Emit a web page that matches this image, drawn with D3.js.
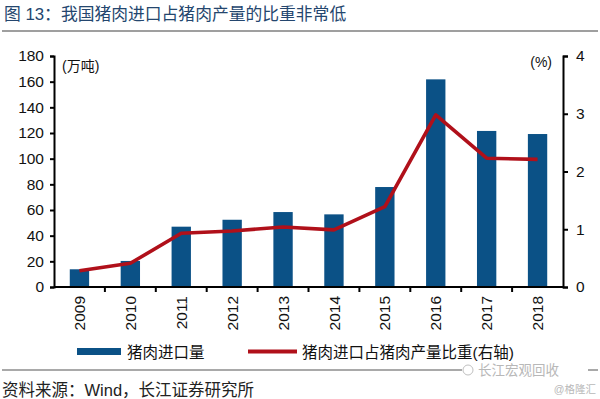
<!DOCTYPE html>
<html><head><meta charset="utf-8">
<script src="https://cdn.jsdelivr.net/npm/d3@7"></script>
<style>
body{margin:0;background:#fff;}
svg{display:block;}
text{font-family:"Liberation Sans",Arial,"Noto Sans CJK SC",sans-serif;}
.cjk{font-family:"Liberation Sans","Noto Sans CJK SC",sans-serif;}
</style></head>
<body>
<svg id="c" width="600" height="399"></svg>
<script>
const years = ["2009","2010","2011","2012","2013","2014","2015","2016","2017","2018"];
const importVolume = [13.8, 20.3, 47.0, 52.4, 58.4, 56.6, 77.9, 161.8, 121.6, 119.2];
const importShare = [0.28, 0.41, 0.93, 0.97, 1.04, 0.99, 1.39, 2.98, 2.23, 2.21];
const leftTicks = [0,20,40,60,80,100,120,140,160,180];
const rightTicks = [0,1,2,3,4];
const seriesNames = ["猪肉进口量","猪肉进口占猪肉产量比重(右轴)"];

const svg = d3.select("#c");
const L = 54, R = 563, T = 56, B = 287;
const x = d3.scaleBand().domain(years).range([L, R]).paddingInner(0.62).paddingOuter(0.31);
const xb = d3.scaleBand().domain(years).range([L, R]);
const yL = d3.scaleLinear().domain([0,180]).range([B, T]);
const yR = d3.scaleLinear().domain([0,4]).range([B, T]);

const barColor = "#0b5186", lineColor = "#b0101a";

// title
svg.append("text").attr("class","cjk").attr("x",4).attr("y",20)
  .attr("font-size",16.8).attr("fill","#24466e").text("图 13：我国猪肉进口占猪肉产量的比重非常低");
svg.append("line").attr("x1",2).attr("x2",598).attr("y1",31).attr("y2",31)
  .attr("stroke","#7f7f7f").attr("stroke-width",1.5);

// bars
svg.selectAll("rect.bar").data(years).join("rect").attr("class","bar")
  .attr("x", d => x(d)).attr("width", x.bandwidth())
  .attr("y", (d,i) => yL(importVolume[i])).attr("height", (d,i) => B - yL(importVolume[i]))
  .attr("fill", barColor);

// line
const line = d3.line().x(d => xb(d[0]) + xb.bandwidth()/2).y(d => yR(d[1]));
svg.append("path").datum(years.map((y,i)=>[y, importShare[i]]))
  .attr("d", line).attr("fill","none").attr("stroke",lineColor)
  .attr("stroke-width",3.6).attr("stroke-linejoin","round");

// axes
const axL = svg.append("g").attr("transform",`translate(${L},0)`)
  .call(d3.axisLeft(yL).tickValues(leftTicks).tickSize(4).tickPadding(6));
const axR = svg.append("g").attr("transform",`translate(${R},0)`)
  .call(d3.axisRight(yR).tickValues(rightTicks).tickFormat(d3.format("d")).tickSize(5).tickPadding(8));
const axX = svg.append("g").attr("transform",`translate(0,${B})`)
  .call(d3.axisBottom(xb).tickSize(0).tickPadding(0));
[axL, axR, axX].forEach(a => {
  a.select(".domain").attr("stroke","#000").attr("stroke-width",2);
  a.selectAll(".tick line").attr("stroke","#000").attr("stroke-width",2);
  a.selectAll("text").attr("font-size",15.5).attr("fill","#111").attr("font-family","Liberation Sans, Arial, sans-serif");
});
axX.select(".domain").attr("d",`M${L},0H${R}`);
// x tick marks at band boundaries
axX.selectAll("line.bt").data(d3.range(1, years.length)).join("line").attr("class","bt")
  .attr("x1", i => L + i*xb.step()).attr("x2", i => L + i*xb.step())
  .attr("y1",0).attr("y2",5).attr("stroke","#000").attr("stroke-width",2);
axX.selectAll(".tick text")
  .attr("transform","rotate(-90)").attr("text-anchor","end")
  .attr("x",-9).attr("y",0).attr("dy","0.36em");

// unit labels
svg.append("text").attr("class","cjk").attr("x",62).attr("y",71).attr("font-size",14).attr("fill","#111").text("(万吨)");
svg.append("text").attr("class","cjk").attr("x",552).attr("y",67).attr("text-anchor","end").attr("font-size",14).attr("fill","#111").text("(%)");

// legend
svg.append("rect").attr("x",77).attr("y",348).attr("width",44).attr("height",7).attr("fill",barColor);
svg.append("text").attr("class","cjk").attr("x",127).attr("y",358).attr("font-size",15.5).attr("fill","#111").text(seriesNames[0]);
svg.append("line").attr("x1",248).attr("x2",297).attr("y1",351.5).attr("y2",351.5).attr("stroke",lineColor).attr("stroke-width",4);
svg.append("text").attr("class","cjk").attr("x",302).attr("y",358).attr("font-size",15.5).attr("fill","#111").text(seriesNames[1]);

// footer
svg.append("line").attr("x1",2).attr("x2",598).attr("y1",370).attr("y2",370).attr("stroke","#555").attr("stroke-width",1.2);
svg.append("text").attr("class","cjk").attr("x",2).attr("y",396).attr("font-size",16.5).attr("fill","#222").text("资料来源：Wind，长江证券研究所");

// watermark
svg.append("rect").attr("x",462).attr("y",362).attr("width",126).attr("height",16).attr("fill","#fff");
svg.append("text").attr("class","cjk").attr("x",478).attr("y",375).attr("font-size",13.5).attr("fill","#b8b8b8").text("长江宏观回收");
svg.append("circle").attr("cx",468).attr("cy",370).attr("r",5).attr("fill","none").attr("stroke","#c0c0c0");
svg.append("text").attr("class","cjk").attr("x",596).attr("y",393).attr("text-anchor","end").attr("font-size",10.5).attr("fill","#b8b8b8").text("@格隆汇");
</script>
</body></html>
